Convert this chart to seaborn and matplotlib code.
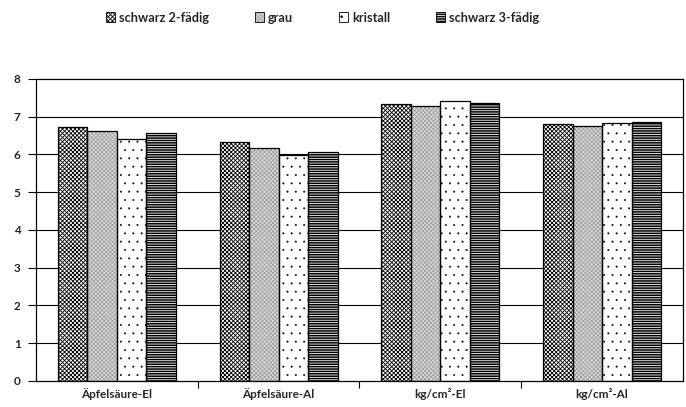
import pandas as pd
import matplotlib.pyplot as plt
import matplotlib.colors as mcolors
import seaborn as sns
import numpy as np
from matplotlib.patches import Patch

categories = ['Äpfelsäure-El', 'Äpfelsäure-Al', 'kg/cm²-El', 'kg/cm²-Al']
series = ['schwarz 2-fädig', 'grau', 'kristall', 'schwarz 3-fädig']
schwarz2 = [6.74, 6.33, 7.33, 6.80]
grau = [6.61, 6.17, 7.28, 6.75]
kristall = [6.41, 5.98, 7.42, 6.84]
schwarz3 = [6.56, 6.06, 7.35, 6.85]

data = pd.DataFrame({
    'cat': categories * 4,
    'serie': [s for s in series for _ in categories],
    'wert': schwarz2 + grau + kristall + schwarz3,
})

# fill, hatch, hatch colour, hatch width per series
styles = {
    'schwarz 2-fädig': ('white', 'xxxxxxxx', 'black', 0.6),
    'grau': ('#dcdcdc', 'xxxxxxxx', '#a0a0a0', 0.6),
    'kristall': ('white', '..', 'black', 0.2),
    'schwarz 3-fädig': ('black', '-------', 'white', 0.6),
}

sns.set_style('white')
plt.rcParams['font.family'] = ['Lato', 'DejaVu Sans']
plt.rcParams['font.weight'] = 'bold'
plt.rcParams['hatch.linewidth'] = 0.6

fig = plt.figure(figsize=(6.86, 4.07), dpi=100)
ax = fig.add_axes([0.0525, 0.064, 0.943, 0.742])

ax.set_ylim(0, 8)
for y in range(1, 8):
    ax.axhline(y, color='black', lw=0.8, zorder=0)

sns.barplot(data=data, x='cat', y='wert', hue='serie', order=categories,
            hue_order=series, width=0.73, legend=False, ax=ax, zorder=2)
for cont, s in zip(ax.containers, series):
    fc, h, hc, hw = styles[s]
    for p in cont:
        p.set_facecolor(fc)
        p.set_edgecolor(hc)
        p.set_hatch(h)
        p.set_linewidth(0)
        if hasattr(p, 'set_hatch_linewidth'):
            p.set_hatch_linewidth(hw)

# black outlines on top
sns.barplot(data=data, x='cat', y='wert', hue='serie', order=categories,
            hue_order=series, width=0.73, legend=False, ax=ax, fill=False,
            palette=['black'] * 4, linewidth=0.9, zorder=3)

ax.set_xlim(-0.5, 3.5)
ax.set_yticks(range(9))
ax.set_xlabel('')
ax.set_ylabel('')
for sp in ax.spines.values():
    sp.set_color('black')
    sp.set_linewidth(0.9)
ax.tick_params(axis='y', direction='out', length=6, width=0.8, color='black',
               left=True, labelsize=8.5, pad=5)
ax.tick_params(axis='x', which='major', length=0, labelsize=8.5, pad=5)
ax.set_xticks([0.5, 1.5, 2.5], minor=True)
ax.tick_params(axis='x', which='minor', direction='out', length=5, width=0.8,
               color='black', bottom=True)

handles = [Patch(facecolor=styles[s][0], edgecolor=styles[s][2],
                 hatch=styles[s][1], linewidth=0) for s in series]
leg = fig.legend(handles, series, loc='upper center', bbox_to_anchor=(0.47, 1.0),
                 ncol=4, frameon=False, fontsize=9.2, handlelength=0.72,
                 handleheight=0.72, handletextpad=0.3, columnspacing=3.6)
for h, s in zip(leg.legend_handles, series):
    h.set_edgecolor('black')
    h.set_linewidth(0.6)
    h._hatch_color = mcolors.to_rgba(styles[s][2])

plt.savefig('out.png', dpi=100)
